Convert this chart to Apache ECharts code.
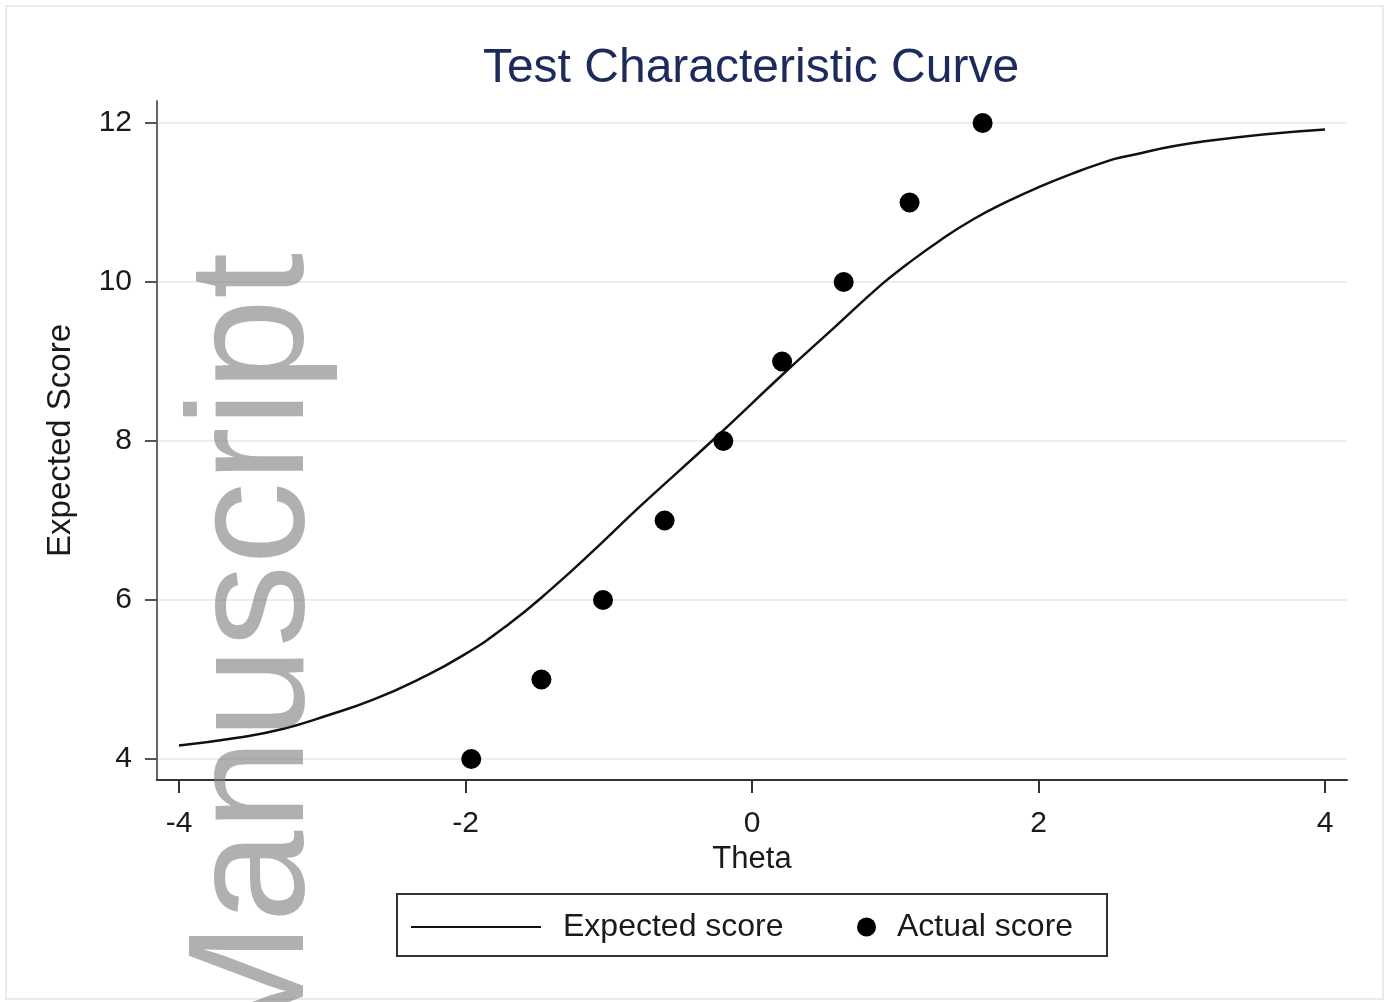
<!DOCTYPE html>
<html>
<head>
<meta charset="utf-8">
<script src="https://cdn.jsdelivr.net/npm/echarts@6/dist/echarts.min.js"></script>
<style>
html,body{margin:0;padding:0;background:#fff;}
#chart{width:1389px;height:1002px;}
</style>
</head>
<body>
<div id="chart"></div>
<script>
// Expected score curve
var curveTheta = [-4.0,-3.58,-3.27,-2.96,-2.64,-2.33,-2.02,-1.71,-1.40,-1.06,-0.78,-0.28,0.21,0.57,0.905,1.08,1.31,1.545,1.78,2.01,2.245,2.43,2.58,3.16,4.0];
var curveScore = [4.17,4.27,4.38,4.55,4.75,5.00,5.30,5.68,6.14,6.70,7.18,8.00,8.83,9.42,9.97,10.22,10.52,10.79,11.01,11.20,11.37,11.49,11.57,11.77,11.92];
// Actual score points
var actualTheta = [-1.96,-1.47,-1.04,-0.61,-0.20,0.21,0.64,1.10,1.61];
var actualScore = [4,5,6,7,8,9,10,11,12];
// Tick labels
var xTicks = [-4,-2,0,2,4];
var yTicks = [4,6,8,10,12];

var FONT = '"Liberation Sans", Arial, Helvetica, sans-serif';

function zip(a,b){var r=[];for(var i=0;i<a.length;i++){r.push([a[i],b[i]]);}return r;}

var chart = echarts.init(document.getElementById('chart'), null, {renderer:'canvas'});
var option = {
  backgroundColor:'#ffffff',
  animation:false,
  title:{
    text:'Test Characteristic Curve',
    left:746, top:40, textAlign:'center',
    textStyle:{fontFamily:FONT,fontSize:48,fontWeight:'normal',color:'#1c2b5c'}
  },
  grid:{left:157,right:42,top:101,bottom:222,containLabel:false},
  xAxis:{
    type:'value', min:-4.1536, max:4.1536,
    name:'Theta', nameLocation:'middle', nameGap:62,
    nameTextStyle:{fontFamily:FONT,fontSize:31,color:'#1a1a1a'},
    axisLine:{show:true,onZero:false,lineStyle:{color:'#333333',width:2}},
    axisTick:{show:true,length:13,customValues:xTicks,lineStyle:{color:'#333333',width:2}},
    axisLabel:{customValues:xTicks,margin:29,fontFamily:FONT,fontSize:30,color:'#1a1a1a'},
    splitLine:{show:false}
  },
  yAxis:{
    type:'value', min:3.736, max:12.277,
    name:'Expected Score', nameLocation:'middle', nameGap:80, nameRotate:90,
    nameTextStyle:{fontFamily:FONT,fontSize:33,color:'#1a1a1a'},
    axisLine:{show:true,onZero:false,lineStyle:{color:'#666666',width:2}},
    axisTick:{show:true,length:12,customValues:yTicks,lineStyle:{color:'#555555',width:2}},
    axisLabel:{customValues:yTicks,margin:25,fontFamily:FONT,fontSize:30,color:'#1a1a1a'},
    splitLine:{show:true,lineStyle:{color:'#e6eff1',width:2}}
  },
  legend:[
    {
      data:['Expected score'], left:406, top:906,
      itemWidth:130, itemHeight:16, icon:'path://M0,7L130,7L130,9L0,9Z',
      itemStyle:{color:'#111111'},
      textStyle:{fontFamily:FONT,fontSize:32,color:'#1a1a1a',padding:[0,0,0,17]}
    },
    {
      data:['Actual score'], left:852, top:906,
      itemWidth:19, itemHeight:19, icon:'circle',
      itemStyle:{color:'#000000',opacity:1},
      textStyle:{fontFamily:FONT,fontSize:32,color:'#1a1a1a',padding:[0,0,0,16]}
    }
  ],
  graphic:[
    {type:'rect', shape:{x:6,y:6,width:1377,height:993}, style:{fill:'none',stroke:'#e3ecee',lineWidth:2}, z:0, silent:true},
    {type:'rect', shape:{x:397,y:894,width:710,height:62}, style:{fill:'none',stroke:'#333333',lineWidth:2}, z:5, silent:true},
    {type:'text', x:257, y:253, rotation:Math.PI/2, z:10, silent:true,
     style:{text:'Manuscript', fontFamily:FONT, fontSize:165, fill:'rgba(128,128,128,0.62)', textAlign:'right', textVerticalAlign:'middle'}}
  ],
  series:[
    {
      name:'Expected score', type:'line', data:zip(curveTheta,curveScore),
      smooth:0.5, showSymbol:false, symbol:'none',
      lineStyle:{color:'#111111',width:2.5}, itemStyle:{color:'#111111'}, z:3
    },
    {
      name:'Actual score', type:'scatter', data:zip(actualTheta,actualScore),
      symbol:'circle', symbolSize:20, itemStyle:{color:'#000000',opacity:1}, z:4
    }
  ]
};
chart.setOption(option);
</script>
</body>
</html>
